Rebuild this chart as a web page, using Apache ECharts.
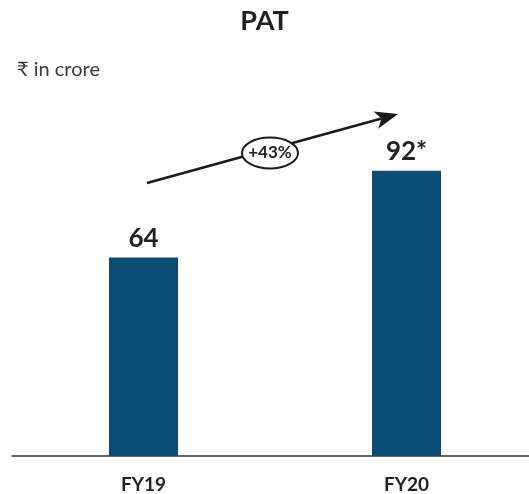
<!DOCTYPE html>
<html>
<head>
<meta charset="utf-8">
<script src="https://cdn.jsdelivr.net/npm/echarts@6/dist/echarts.min.js"></script>
<style>
  html, body { margin: 0; padding: 0; background: #fff; }
  #pat { width: 529px; height: 494px; }
</style>
</head>
<body>
<div id="pat"></div>
<script>
var years = ['FY19', 'FY20'];
var pat = [64, 92];
var barLabels = ['64', '92*'];
var growth = '+43%';

var PatChart = echarts.init(document.getElementById('pat'));

// arrow annotation (pixel positions)
var arrowFrom = [147, 183];
var arrowTo = [398, 114];
var ang = Math.atan2(arrowTo[1] - arrowFrom[1], arrowTo[0] - arrowFrom[0]);
var headLen = 23, headHalf = 9, notch = 17;
function along(d, side) {
    return [
        arrowTo[0] - d * Math.cos(ang) + side * Math.sin(ang),
        arrowTo[1] - d * Math.sin(ang) - side * Math.cos(ang)
    ];
}
var head = [arrowTo, along(headLen, headHalf), along(notch, 0), along(headLen, -headHalf)];
var lineEnd = along(notch, 0);

option = {
    animation: false,
    title: {
        text: 'PAT',
        left: 'center',
        top: 3,
        textStyle: {
            fontFamily: 'Lato',
            fontWeight: 'bold',
            fontSize: 27,
            color: '#222'
        }
    },
    grid: {
        left: 12,
        width: 526,
        top: 146,
        bottom: 38,
        outerBoundsMode: 'none'
    },
    xAxis: {
        type: 'category',
        data: years,
        axisTick: { show: false },
        axisLine: { lineStyle: { color: '#333', width: 1.5 } },
        axisLabel: {
            margin: 19,
            fontFamily: 'Lato',
            fontWeight: 'bold',
            fontSize: 19,
            color: '#222'
        }
    },
    yAxis: {
        type: 'value',
        min: 0,
        max: 100,
        show: false
    },
    series: [{
        type: 'bar',
        data: pat,
        barWidth: 69,
        itemStyle: { color: '#0b4c75' },
        label: {
            show: true,
            position: 'top',
            distance: 6,
            formatter: function (p) { return barLabels[p.dataIndex]; },
            fontFamily: 'Lato',
            fontWeight: 'bold',
            fontSize: 26,
            color: '#222'
        }
    }],
    graphic: [
        {
            type: 'text',
            left: 17,
            top: 60,
            style: {
                text: '₹ in crore',
                font: '20px Lato, "DejaVu Sans"',
                fill: '#3a3a3a'
            }
        },
        {
            type: 'line',
            shape: { x1: arrowFrom[0], y1: arrowFrom[1], x2: lineEnd[0], y2: lineEnd[1] },
            style: { stroke: '#1a1a1a', lineWidth: 2.5 }
        },
        {
            type: 'polygon',
            shape: { points: head },
            style: { fill: '#1a1a1a' }
        },
        {
            type: 'ellipse',
            shape: { cx: 270, cy: 153, rx: 28, ry: 15.5 },
            style: { fill: '#fff', stroke: '#1a1a1a', lineWidth: 2 }
        },
        {
            type: 'text',
            x: 270,
            y: 153,
            style: {
                text: growth,
                font: 'bold 17px Lato',
                fill: '#222',
                align: 'center',
                verticalAlign: 'middle'
            }
        }
    ]
};
PatChart.setOption(option);
</script>
</body>
</html>
